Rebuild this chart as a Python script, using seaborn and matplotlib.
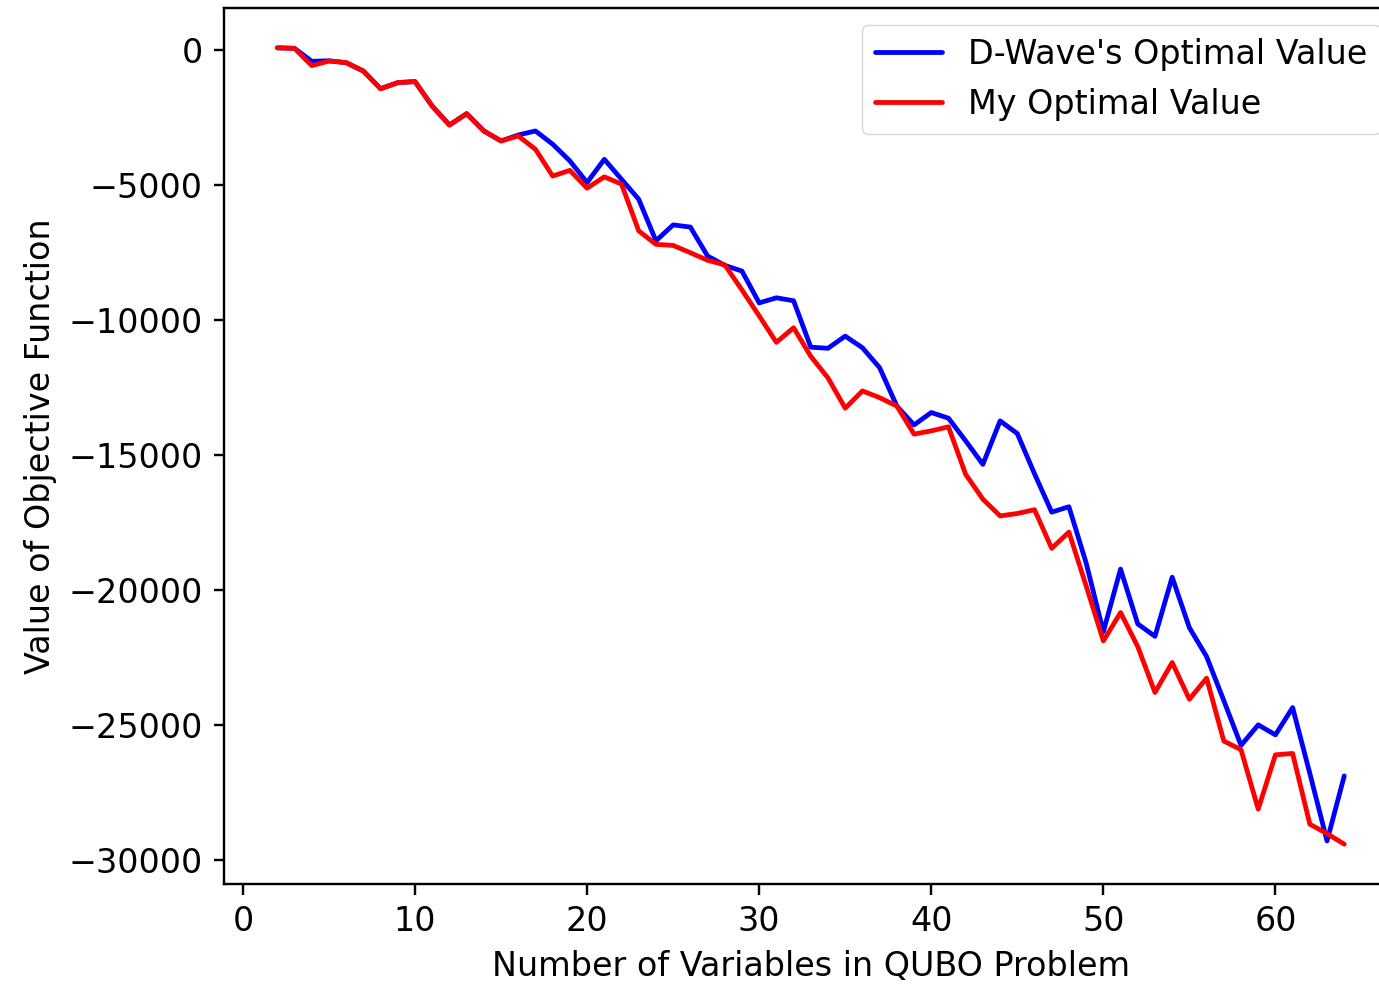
import numpy as np
import pandas as pd
import matplotlib
matplotlib.use("Agg")
import matplotlib.pyplot as plt
import seaborn as sns

# nombre de variables du probleme QUBO
n_vars = list(range(2, 65))

# valeurs optimales
dwave_vals = [80, 60, -420, -400, -470, -780, -1430, -1210, -1170, -2080,
              -2780, -2360, -3000, -3370, -3150, -3000, -3490, -4110, -4910, -4050,
              -4790, -5530, -7070, -6480, -6560, -7630, -7980, -8190, -9370, -9180,
              -9290, -11010, -11050, -10600, -11030, -11770, -13190, -13890, -13430, -13640,
              -14480, -15350, -13740, -14210, -15700, -17120, -16920, -19000, -21550, -19230,
              -21260, -21720, -19530, -21400, -22470, -24100, -25760, -25000, -25370, -24360,
              -26800, -29300, -26890]
my_vals = [80, 60, -580, -410, -470, -780, -1440, -1210, -1170, -2080,
           -2780, -2360, -3000, -3370, -3185, -3680, -4670, -4460, -5120, -4700,
           -4970, -6700, -7200, -7240, -7510, -7790, -7960, -8890, -9850, -10830,
           -10290, -11350, -12150, -13270, -12630, -12880, -13190, -14230, -14110, -13960,
           -15720, -16640, -17260, -17170, -17030, -18460, -17860, -19850, -21890, -20840,
           -22100, -23800, -22690, -24050, -23270, -25600, -25920, -28120, -26110, -26060,
           -28680, -29030, -29420]

series_names = ["D-Wave's Optimal Value", "My Optimal Value"]
series_colors = ["blue", "red"]

df = pd.DataFrame({
    "n": n_vars * 2,
    "value": dwave_vals + my_vals,
    "serie": [series_names[0]] * len(n_vars) + [series_names[1]] * len(n_vars),
})

# echelle : le graphique d'origine etait rendu a haute resolution
k = 2.16
fs = 24
sns.set_style("ticks")
plt.rcParams.update({
    "font.family": ["DejaVu Sans"],
    "font.size": fs,
    "axes.edgecolor": "black",
    "axes.linewidth": 0.8 * k,
    "xtick.color": "black",
    "ytick.color": "black",
    "text.color": "black",
    "axes.labelcolor": "black",
    "xtick.major.size": 3.5 * k,
    "ytick.major.size": 3.5 * k,
    "xtick.major.width": 0.8 * k,
    "ytick.major.width": 0.8 * k,
    "xtick.major.pad": 3.5 * k,
    "ytick.major.pad": 3.5 * k,
    "axes.labelpad": 4 * k,
    "xtick.direction": "out",
    "ytick.direction": "out",
})

fig = plt.figure(figsize=(13.79, 9.85), dpi=100)
ax = fig.add_axes([224 / 1379, 101 / 985, 1173.6 / 1379, 876 / 985])

sns.lineplot(data=df, x="n", y="value", hue="serie",
             palette=dict(zip(series_names, series_colors)),
             linewidth=1.5 * 2.3, ax=ax)

ax.set_xticks([0, 10, 20, 30, 40, 50, 60])
ax.set_yticks([0, -5000, -10000, -15000, -20000, -25000, -30000])
ax.set_xlabel("Number of Variables in QUBO Problem", fontsize=fs)
ax.set_ylabel("Value of Objective Function", fontsize=fs)
ax.tick_params(labelsize=fs)

ax.legend(loc="upper right", fontsize=fs, title=None,
          framealpha=0.8, edgecolor="0.8")

fig.savefig("out.png", dpi=100)
